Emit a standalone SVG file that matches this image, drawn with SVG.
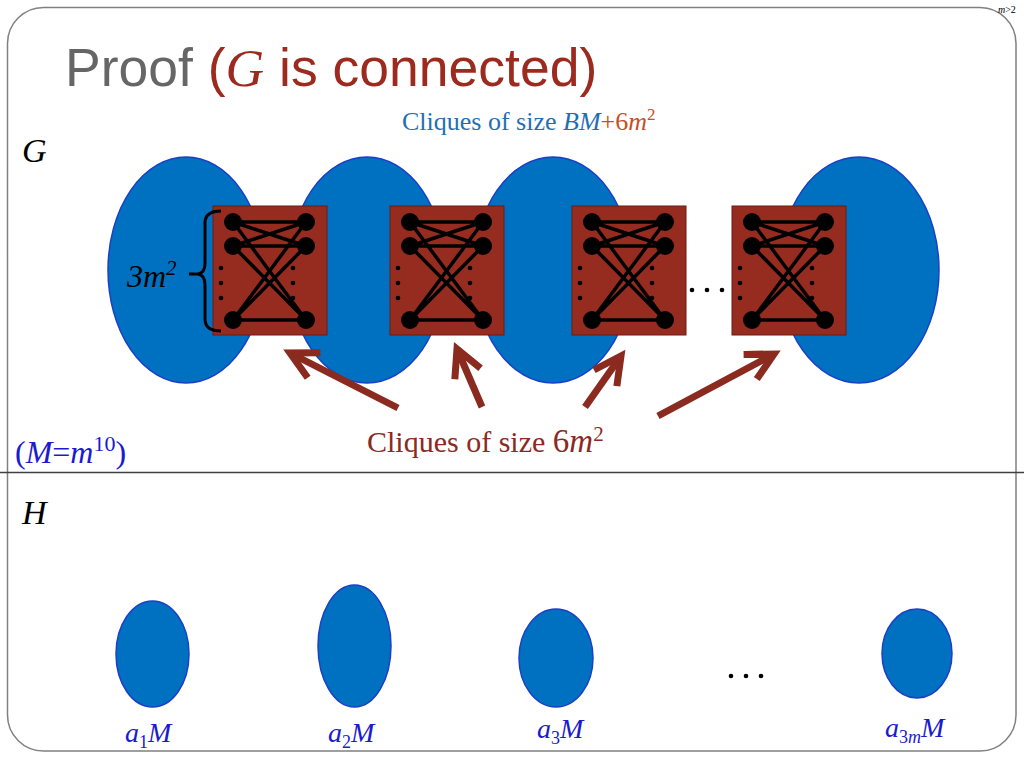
<svg xmlns="http://www.w3.org/2000/svg" xmlns:xlink="http://www.w3.org/1999/xlink" width="1024" height="768" viewBox="0 0 1024 768">
<style>
.serif{font-family:"Liberation Serif","Times New Roman",serif}
.sans{font-family:"Liberation Sans",Arial,sans-serif}
.it{font-style:italic}
.big{fill:#0070C0;stroke:#1B3FC8;stroke-width:1.5}
.small{fill:#0070C0;stroke:#1B3FC8;stroke-width:1.5}
.box{fill:#962B1F;stroke:#6A1D14;stroke-width:1}
.edge{stroke:#000;stroke-width:3.5;fill:none}
.vtx{fill:#000}
.arrow{stroke:#8B2A1E;stroke-width:7;fill:none;marker-end:url(#chev)}
.blue{fill:#1A1AD0}
</style>
<defs>
<marker id="chev" markerUnits="userSpaceOnUse" markerWidth="60" markerHeight="60" refX="0" refY="0" viewBox="-40 -30 60 60" orient="auto" overflow="visible">
<path d="M-27,-14 L0,0 L-27,14" fill="none" stroke="#8B2A1E" stroke-width="7" stroke-linejoin="miter"/>
</marker>
<g id="clique">
<rect class="box" x="0" y="0" width="114" height="129"/>
<path class="edge" d="M20,16 L93,16 M20,40 L93,40 M20,114 L93,114 M20,16 L93,40 M20,40 L93,16 M20,16 L93,114 M20,40 L93,114 M20,114 L93,16 M20,114 L93,40"/>
<circle class="vtx" cx="20" cy="16" r="9"/>
<circle class="vtx" cx="20" cy="40" r="9"/>
<circle class="vtx" cx="20" cy="114" r="9"/>
<circle class="vtx" cx="93" cy="16" r="9"/>
<circle class="vtx" cx="93" cy="40" r="9"/>
<circle class="vtx" cx="93" cy="114" r="9"/>
<circle class="vtx" cx="8" cy="62" r="2.3"/>
<circle class="vtx" cx="8" cy="77" r="2.3"/>
<circle class="vtx" cx="8" cy="92" r="2.3"/>
<circle class="vtx" cx="80" cy="62" r="2.3"/>
<circle class="vtx" cx="80" cy="77" r="2.3"/>
<circle class="vtx" cx="80" cy="92" r="2.3"/>
</g>
</defs>
<rect x="0" y="0" width="1024" height="768" fill="#fff"/>
<rect x="7.5" y="7.5" width="1008.5" height="743.5" rx="36" ry="36" fill="none" stroke="#808080" stroke-width="1.5"/>
<line x1="0" y1="472.5" x2="1024" y2="472.5" stroke="#404040" stroke-width="1.5"/>
<text class="serif" x="998" y="13" font-size="10" fill="#000"><tspan class="it">m</tspan>&gt;2</text>

<text class="sans" x="65" y="86" font-size="53.5" fill="#666666">Proof <tspan fill="#9C2A1E">(<tspan class="serif it">G</tspan> is connected)</tspan></text>

<text class="serif" x="402" y="130" font-size="26" fill="#1F6FB5">Cliques of size <tspan class="it">BM</tspan><tspan fill="#C5501E">+6<tspan class="it">m</tspan><tspan font-size="17" dy="-10">2</tspan></tspan></text>

<text class="serif it" x="22" y="162" font-size="34" fill="#000">G</text>
<text class="serif it" x="22" y="524" font-size="34" fill="#000">H</text>

<g id="G-parts">
<g id="part1"><ellipse class="big" cx="186" cy="270" rx="78" ry="113"/></g>
<g id="part2"><ellipse class="big" cx="367" cy="270" rx="78" ry="113"/></g>
<g id="part3"><ellipse class="big" cx="553" cy="270" rx="79" ry="113"/></g>
<g id="part4"><ellipse class="big" cx="859" cy="270" rx="80" ry="113"/></g>
</g>

<g id="clique1"><use xlink:href="#clique" href="#clique" x="213" y="206"/></g>
<g id="clique2"><use xlink:href="#clique" href="#clique" x="390" y="206"/></g>
<g id="clique3"><use xlink:href="#clique" href="#clique" x="572" y="206"/></g>
<g id="clique4"><use xlink:href="#clique" href="#clique" x="732" y="206"/></g>

<g id="dots-top">
<circle cx="692" cy="290" r="2.3" fill="#000"/>
<circle cx="707" cy="290" r="2.3" fill="#000"/>
<circle cx="722" cy="290" r="2.3" fill="#000"/>
</g>

<g id="brace">
<path d="M221,211 Q205,211 205,223 L205,263 Q205,273 198,274 L189,274 M198,274 Q205,275 205,285 L205,319 Q205,331 221,331" fill="none" stroke="#000" stroke-width="3"/>
<text class="serif it" x="127" y="287" font-size="32" fill="#000">3m<tspan font-size="21" dy="-12">2</tspan></text>
</g>

<g id="connectors">
<line class="arrow" x1="398" y1="408" x2="290" y2="353"/>
<line class="arrow" x1="482" y1="407" x2="457" y2="349"/>
<line class="arrow" x1="585" y1="407" x2="621" y2="356"/>
<line class="arrow" x1="658" y1="416" x2="774" y2="354"/>
</g>

<text class="serif" x="367" y="452" font-size="30" fill="#8B2A1E">Cliques of size <tspan font-size="33">6<tspan class="it">m</tspan></tspan><tspan font-size="21" dy="-11">2</tspan></text>

<text class="serif blue" x="15" y="463" font-size="32">(<tspan class="it">M</tspan>=<tspan class="it">m</tspan><tspan font-size="22" dy="-12">10</tspan><tspan dy="12">)</tspan></text>

<g id="H-parts">
<g id="h1"><ellipse class="small" cx="152.5" cy="654" rx="36.5" ry="53"/>
<text class="serif blue" x="125" y="742" font-size="28"><tspan class="it">a</tspan><tspan font-size="18" dy="6">1</tspan><tspan class="it" dy="-6">M</tspan></text></g>
<g id="h2"><ellipse class="small" cx="354.5" cy="646" rx="36.5" ry="61"/>
<text class="serif blue" x="328" y="742" font-size="28"><tspan class="it">a</tspan><tspan font-size="18" dy="6">2</tspan><tspan class="it" dy="-6">M</tspan></text></g>
<g id="h3"><ellipse class="small" cx="556" cy="658" rx="37" ry="49"/>
<text class="serif blue" x="537" y="738" font-size="28"><tspan class="it">a</tspan><tspan font-size="18" dy="6">3</tspan><tspan class="it" dy="-6">M</tspan></text></g>
<g id="h4"><ellipse class="small" cx="917" cy="653.5" rx="35" ry="44.5"/>
<text class="serif blue" x="885" y="737" font-size="28"><tspan class="it">a</tspan><tspan font-size="18" dy="6">3<tspan class="it">m</tspan></tspan><tspan class="it" dy="-6">M</tspan></text></g>
</g>

<g id="dots-bottom">
<circle cx="731" cy="676" r="2.3" fill="#000"/>
<circle cx="746" cy="676" r="2.3" fill="#000"/>
<circle cx="761" cy="676" r="2.3" fill="#000"/>
</g>
</svg>
